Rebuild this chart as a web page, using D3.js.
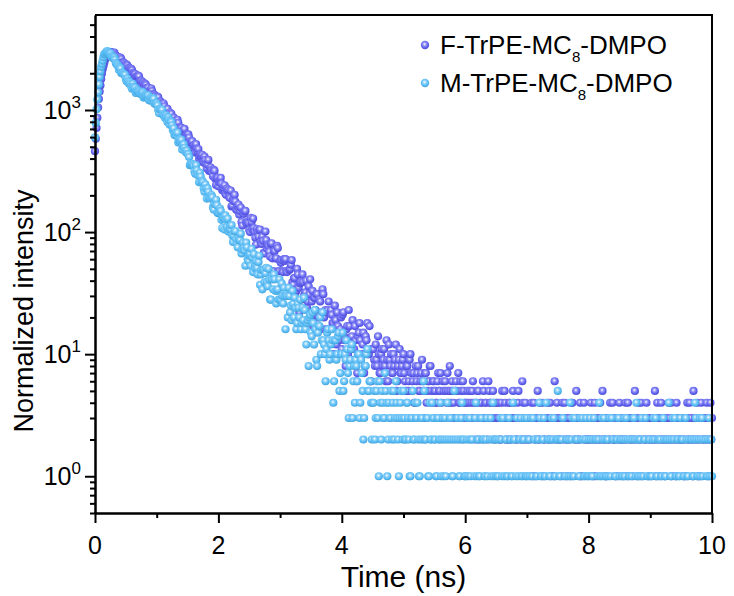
<!DOCTYPE html>
<html>
<head>
<meta charset="utf-8">
<script src="https://cdn.jsdelivr.net/npm/d3@7"></script>
<style>
  body { margin: 0; background: #fff; }
  svg { display: block; font-family: "Liberation Sans", Arial, sans-serif; }
</style>
</head>
<body>
<div id="chart"></div>
<script>
// channel width of the decay traces (ns), first channel at t = 0
const step = 0.0125;

const fSeries = [
  460, 581, 712, 862, 1046, 1231, 1418, 1590, 1795, 1988, 2162, 2288, 2441, 2575, 2690, 2752, 2826, 2897, 2931, 2938, 2964, 2975, 2958, 2921,
  2903, 2947, 2848, 2778, 2698, 2625, 2724, 2677, 2600, 2692, 2616, 2460, 2436, 2448, 2410, 2318, 2263,
  2352, 2312, 2121, 2219, 2189, 2110, 2178, 2123, 2009, 1965, 1974, 1970, 1852, 1872, 1895, 1912, 1888, 1717, 1737, 1726,
  1609, 1694, 1656, 1583, 1638, 1605, 1514, 1514, 1525, 1398, 1392, 1446, 1498, 1431, 1347, 1319, 1331, 1300, 1244, 1217,
  1289, 1272, 1115, 1155, 1172, 1137, 1103, 1050, 1129, 1073, 988, 1003, 994, 1020, 930, 917, 954, 907, 929, 824,
  846, 865, 772, 820, 811, 766, 830, 785, 714, 700, 716, 714, 656, 665, 687, 700, 577, 593, 626, 608,
  631, 595, 552, 536, 543, 555, 489, 509, 520, 448, 526, 481, 456, 479, 400, 420, 432, 415, 430, 374,
  376, 415, 389, 358, 331, 358, 390, 317, 323, 338, 322, 306, 287, 324, 318, 274, 243, 276, 279, 237,
  256, 267, 278, 249, 220, 225, 230, 242, 207, 202, 227, 216, 222, 194, 190, 219, 162, 165, 187, 179,
  202, 178, 153, 152, 162, 168, 139, 149, 159, 121, 113, 144, 141, 148, 149, 120, 117, 122, 119, 104,
  100, 131, 121, 105, 129, 108, 101, 90, 79, 106, 100, 92, 104, 105, 83, 80, 92, 85, 68, 67,
  101, 86, 73, 79, 77, 69, 63, 80, 81, 61, 48, 70, 70, 61, 61, 77, 74, 48, 48, 58,
  56, 59, 48, 47, 60, 58, 60, 48, 47, 35, 35, 49, 50, 54, 59, 39, 37, 42, 42, 32,
  33, 50, 45, 35, 22, 38, 39, 28, 45, 39, 30, 32, 32, 40, 24, 27, 36, 31, 41, 20,
  27, 33, 17, 29, 29, 23, 31, 31, 21, 20, 28, 27, 16, 22, 34, 31, 20, 16, 23, 22,
  16, 23, 27, 16, 10, 23, 21, 18, 18, 10, 25, 19, 12, 22, 17, 14, 13, 16, 20, 11,
  21, 22, 14, 13, 8, 16, 17, 10, 23, 17, 11, 13, 14, 19, 9, 11, 17, 13, 6, 7,
  14, 15, 18, 13, 10, 10, 12, 15, 7, 8, 14, 13, 18, 10, 10, 17, 6, 6, 11, 11,
  11, 9, 8, 12, 9, 8, 14, 10, 7, 7, 10, 11, 8, 9, 11, 8, 6, 13, 9, 6, 12, 9, 8, 10, 7, 7, 10, 8, 9, 12, 5, 6, 8, 9, 11, 7, 7, 8, 9, 10,
  7, 6, 5, 8, 8, 5, 6, 9, 10, 7, 5, 6, 7, 4, 4, 8, 6, 7, 8, 5, 5, 6, 7, 9, 6, 5, 3, 7, 7, 4, 5, 6, 6, 8, 8, 5, 4, 6, 6, 5,
  5, 4, 4, 6, 7, 5, 5, 7, 4, 3, 6, 5, 3, 6, 5, 4, 7, 5, 4, 8, 5, 4, 6, 5, 4, 3, 5, 6, 3, 5, 7, 4, 4, 6, 5, 3, 6, 5, 4, 4,
  3, 4, 5, 3, 4, 5, 3, 4, 5, 6, 4, 3, 2, 4, 4, 5, 5, 2, 3, 4, 4, 3, 6, 5, 3, 4, 4, 3, 2, 6, 5, 4, 4, 3, 3, 5, 4, 2, 3, 4,
  4, 3, 3, 4, 2, 2, 4, 5, 3, 3, 5, 4, 2, 3, 3, 2, 4, 4, 2, 3, 3, 5, 4, 3, 3, 2, 2, 4, 5, 3, 3, 3, 2, 6, 4, 2, 3, 4, 2, 3,
  2, 3, 3, 2, 3, 4, 1, 3, 4, 1, 2, 3, 3, 5, 2, 2, 4, 3, 3, 4, 1, 2, 2, 3, 3, 3, 4, 2, 2, 4, 3, 1, 2, 3, 1, 6, 3, 2, 4, 3,
  3, 2, 2, 3, 1, 4, 3, 2, 4, 3, 2, 1, 2, 3, 3, 2, 1, 4, 4, 3, 3, 2, 2, 5, 3, 3, 2, 2, 4, 1, 1, 3, 3, 4, 2, 2, 3, 3, 2, 2,
  2, 3, 4, 2, 3, 1, 2, 4, 1, 2, 3, 3, 2, 2, 4, 3, 2, 5, 3, 2, 2, 1, 1, 3, 3, 2, 2, 4, 3, 3, 4, 2, 2, 2, 1, 3, 3, 1, 2, 4,
  3, 2, 2, 3, 1, 2, 3, 4, 2, 1, 4, 3, 3, 2, 2, 3, 1, 2, 3, 5, 2, 3, 3, 1, 4, 2, 2, 4, 1, 3, 3, 2, 2, 3, 4, 2, 3, 1, 2, 3,
  2, 3, 3, 2, 2, 5, 1, 2, 4, 3, 3, 1, 2, 4, 3, 2, 2, 3, 1, 2, 3, 3, 2, 4, 3, 2, 4, 1, 2, 3, 3, 2, 1, 4, 2, 3, 3, 2, 2, 3,
  3, 2, 1, 3, 2, 1, 3, 4, 2, 2, 4, 3, 3, 2, 1, 5, 2, 3, 3, 2, 4, 1, 2, 3, 1, 4, 3, 2, 2, 3, 3, 2, 4, 3, 2, 1, 3, 4, 2, 3
];

const mSeries = [
  596, 786, 1012, 1217, 1398, 1620, 1866, 2071, 2258, 2392, 2541, 2711, 2868, 2870, 2945, 3003, 3040, 2968, 2912, 2934,
  2896, 2748, 2691, 2734, 2656, 2683, 2582, 2430, 2370, 2350, 2281, 2132, 2235, 2189, 2011, 2006, 2013, 1968, 1940, 1939, 1799,
  1720, 1808, 1722, 1649, 1685, 1633, 1561, 1495, 1639, 1544, 1481, 1523, 1378, 1428, 1461, 1416, 1415, 1363, 1361, 1359,
  1418, 1392, 1263, 1297, 1344, 1316, 1287, 1310, 1316, 1209, 1195, 1262, 1223, 1198, 1256, 1237, 1130, 1124, 1132, 1132,
  1091, 1002, 944, 1020, 1004, 1015, 1003, 920, 900, 900, 858, 904, 872, 798, 869, 828, 756, 811, 798, 749,
  681, 708, 628, 620, 649, 619, 652, 543, 563, 578, 551, 571, 475, 506, 523, 490, 462, 451, 465, 438,
  434, 412, 353, 358, 364, 359, 357, 349, 314, 300, 354, 321, 297, 291, 256, 306, 285, 255, 263, 257,
  228, 214, 246, 227, 188, 228, 214, 192, 192, 188, 201, 193, 160, 153, 171, 170, 184, 166, 143, 144,
  144, 156, 149, 126, 108, 131, 132, 105, 137, 126, 110, 129, 101, 106, 111, 105, 114, 94, 83, 93,
  101, 102, 87, 81, 75, 86, 89, 86, 97, 67, 72, 82, 74, 71, 53, 82, 75, 60, 58, 64,
  66, 53, 73, 62, 47, 66, 55, 50, 58, 51, 45, 57, 64, 37, 45, 49, 34, 49, 49, 39,
  46, 51, 39, 36, 50, 41, 28, 28, 42, 41, 34, 45, 41, 33, 26, 33, 34, 28, 41, 28,
  28, 38, 30, 26, 35, 30, 16, 31, 30, 20, 35, 30, 22, 25, 19, 33, 26, 20, 29, 24,
  16, 18, 26, 24, 20, 28, 16, 18, 24, 19, 29, 23, 16, 12, 18, 19, 8, 20, 21, 15,
  14, 22, 18, 12, 23, 16, 9, 8, 15, 17, 17, 20, 10, 13, 22, 13, 12, 10, 6, 11,
  15, 16, 13, 9, 10, 12, 16, 13, 4, 6, 13, 13, 9, 10, 14, 15, 5, 7, 10, 10,
  15, 5, 6, 10, 9, 13, 11, 7, 3, 8, 9, 11, 12, 3, 6, 8, 4, 9, 8, 6,
  10, 10, 3, 4, 9, 7, 5, 2, 3, 8, 8, 10, 11, 5, 5, 6, 6, 4, 2, 4,
  4, 5, 2, 3, 5, 6, 3, 1, 6, 4, 2, 5, 4, 3, 3, 7, 5, 4, 1, 2, 4, 3, 3, 5, 2, 4, 5, 2, 3, 6, 4, 3, 2, 1, 3, 4, 5, 3, 2, 5,
  3, 2, 2, 4, 4, 3, 2, 1, 1, 3, 3, 5, 2, 2, 4, 3, 3, 4, 2, 1, 1, 2, 3, 3, 2, 6, 5, 2, 2, 3, 3, 1, 1, 4, 2, 2, 4, 3, 3, 2,
  2, 1, 1, 3, 3, 2, 2, 4, 1, 2, 3, 1, 2, 3, 1, 2, 4, 0, 2, 3, 3, 2, 1, 1, 2, 5, 0, 2, 3, 3, 2, 1, 1, 2, 3, 4, 2, 2, 1, 1,
  1, 2, 3, 1, 2, 3, 1, 2, 2, 0, 0, 1, 3, 4, 1, 2, 2, 1, 1, 3, 3, 2, 2, 2, 1, 1, 2, 3, 1, 0, 0, 2, 3, 1, 2, 4, 1, 2, 2, 1,
  2, 1, 1, 2, 0, 3, 2, 1, 3, 0, 1, 2, 2, 1, 1, 3, 3, 2, 2, 1, 1, 4, 2, 2, 0, 1, 3, 0, 1, 2, 2, 3, 1, 1, 2, 2, 3, 1, 1, 3,
  1, 2, 2, 1, 3, 0, 1, 3, 2, 2, 0, 1, 1, 2, 2, 4, 3, 1, 1, 2, 2, 3, 1, 1, 4, 0, 2, 2, 1, 1, 2, 3, 0, 2, 3, 1, 1, 2, 2, 5,
  2, 1, 1, 2, 2, 3, 3, 0, 1, 1, 2, 2, 0, 1, 2, 4, 1, 2, 3, 1, 1, 3, 2, 2, 2, 0, 1, 1, 3, 2, 0, 3, 2, 1, 1, 2, 3, 1, 1, 2,
  1, 3, 2, 1, 1, 2, 3, 0, 2, 2, 0, 1, 2, 4, 1, 1, 3, 2, 1, 3, 2, 1, 1, 2, 2, 1, 3, 0, 1, 3, 2, 2, 0, 1, 1, 2, 2, 3, 3, 1,
  2, 2, 1, 1, 2, 3, 1, 2, 3, 0, 2, 1, 1, 2, 0, 1, 2, 3, 3, 2, 1, 4, 2, 1, 1, 2, 2, 1, 3, 0, 1, 2, 2, 3, 0, 1, 1, 2, 2, 1,
  1, 1, 2, 3, 0, 2, 3, 1, 1, 2, 2, 0, 2, 1, 1, 3, 3, 2, 1, 1, 2, 2, 0, 4, 2, 1, 1, 2, 3, 0, 2, 3, 1, 1, 2, 2, 1, 1, 3, 2,
  2, 2, 1, 1, 3, 3, 2, 1, 1, 2, 0, 0, 2, 2, 1, 1, 2, 4, 3, 2, 1, 1, 2, 3, 1, 2, 3, 1, 2, 0, 0, 2, 1, 1, 2, 3, 1, 2, 2, 1
];

const seriesLabels = [
  { pre: 'F-TrPE-MC', sub: '8', post: '-DMPO' },
  { pre: 'M-TrPE-MC', sub: '8', post: '-DMPO' }
];
const seriesColors = ['#5b5bf0', '#50b8f4'];

const xTicks = [0, 2, 4, 6, 8, 10];
const xMinorTicks = [1, 3, 5, 7, 9];
const yTicks = [1, 10, 100, 1000];
const yExponents = ['0', '1', '2', '3'];

const W = 734, H = 596;
const m = { left: 95, right: 22, top: 15, bottom: 83 };

const svg = d3.select('#chart').append('svg')
  .attr('width', W)
  .attr('height', H);

const defs = svg.append('defs');
seriesColors.forEach((c, i) => {
  const g = defs.append('radialGradient')
    .attr('id', 'ball' + i)
    .attr('cx', '45%').attr('cy', '40%').attr('r', '60%');
  g.append('stop').attr('offset', '0%').attr('stop-color', '#ffffff');
  g.append('stop').attr('offset', '35%').attr('stop-color', d3.interpolateRgb(c, '#fff')(0.35));
  g.append('stop').attr('offset', '75%').attr('stop-color', c);
  g.append('stop').attr('offset', '100%').attr('stop-color', d3.color(c).darker(0.4));
});

const x = d3.scaleLinear().domain([0, 10]).range([m.left, W - m.right]);
const y = d3.scaleLog().domain([0.5, 6000]).range([H - m.bottom, m.top]);

// zero-count channels cannot sit on a log axis
const toPoints = arr => arr
  .map((v, i) => ({ t: i * step, v }))
  .filter(d => d.v > 0);

[fSeries, mSeries].forEach((arr, si) => {
  svg.append('g')
    .selectAll('circle')
    .data(toPoints(arr))
    .join('circle')
    .attr('cx', d => x(d.t))
    .attr('cy', d => y(d.v))
    .attr('r', 4.1)
    .attr('fill', `url(#ball${si})`);
});

// axes
const axisStyle = g => {
  g.select('.domain').attr('stroke', '#000').attr('stroke-width', 2);
  g.selectAll('.tick line').attr('stroke', '#000').attr('stroke-width', 2);
};

svg.append('g')
  .attr('transform', `translate(0,${H - m.bottom})`)
  .call(d3.axisBottom(x).tickValues(xTicks).tickSize(10).tickSizeOuter(0).tickFormat(''))
  .call(axisStyle);

svg.append('g')
  .attr('transform', `translate(0,${H - m.bottom})`)
  .call(d3.axisBottom(x).tickValues(xMinorTicks).tickSize(5).tickSizeOuter(0).tickFormat(''))
  .call(axisStyle);

const yMinor = [];
[0.1, 1, 10, 100, 1000].forEach(dec => {
  for (let k = 2; k <= 9; k++) {
    const v = dec * k;
    if (v >= 0.5 && v < 6000) yMinor.push(v);
  }
});

svg.append('g')
  .attr('transform', `translate(${m.left},0)`)
  .call(d3.axisLeft(y).tickValues(yTicks).tickSize(10).tickSizeOuter(0).tickFormat(''))
  .call(axisStyle);

svg.append('g')
  .attr('transform', `translate(${m.left},0)`)
  .call(d3.axisLeft(y).tickValues(yMinor).tickSize(5).tickSizeOuter(0).tickFormat(''))
  .call(axisStyle);

// frame top / right
svg.append('line')
  .attr('x1', m.left).attr('x2', W - m.right)
  .attr('y1', m.top).attr('y2', m.top)
  .attr('stroke', '#000').attr('stroke-width', 2);
svg.append('line')
  .attr('x1', W - m.right).attr('x2', W - m.right)
  .attr('y1', m.top - 1).attr('y2', H - m.bottom + 1)
  .attr('stroke', '#000').attr('stroke-width', 2);

// tick labels
svg.append('g')
  .selectAll('text')
  .data(xTicks)
  .join('text')
  .attr('x', d => x(d))
  .attr('y', 554)
  .attr('text-anchor', 'middle')
  .attr('font-size', 25)
  .text(d => d);

const yl = svg.append('g')
  .selectAll('text')
  .data(yTicks)
  .join('text')
  .attr('x', 81)
  .attr('y', d => y(d) + 9)
  .attr('text-anchor', 'end')
  .attr('font-size', 25);
yl.append('tspan').text('10');
yl.append('tspan')
  .attr('font-size', 17)
  .attr('dy', -11)
  .text((d, i) => yExponents[i]);

// axis titles
svg.append('text')
  .attr('x', (m.left + W - m.right) / 2)
  .attr('y', 587)
  .attr('text-anchor', 'middle')
  .attr('font-size', 30)
  .text('Time (ns)');

svg.append('text')
  .attr('transform', `translate(33,${311}) rotate(-90)`)
  .attr('text-anchor', 'middle')
  .attr('font-size', 27)
  .text('Normalized intensity');

// legend
const leg = svg.append('g')
  .selectAll('g')
  .data(seriesLabels)
  .join('g')
  .attr('transform', (d, i) => `translate(425,${45 + i * 38})`);

leg.append('circle')
  .attr('r', 4.2)
  .attr('fill', (d, i) => `url(#ball${i})`);

const lt = leg.append('text')
  .attr('x', 15)
  .attr('y', 9)
  .attr('font-size', 26);
lt.append('tspan').text(d => d.pre);
lt.append('tspan').attr('font-size', 15).attr('dy', 8).text(d => d.sub);
lt.append('tspan').attr('dy', -8).text(d => d.post);
</script>
</body>
</html>
